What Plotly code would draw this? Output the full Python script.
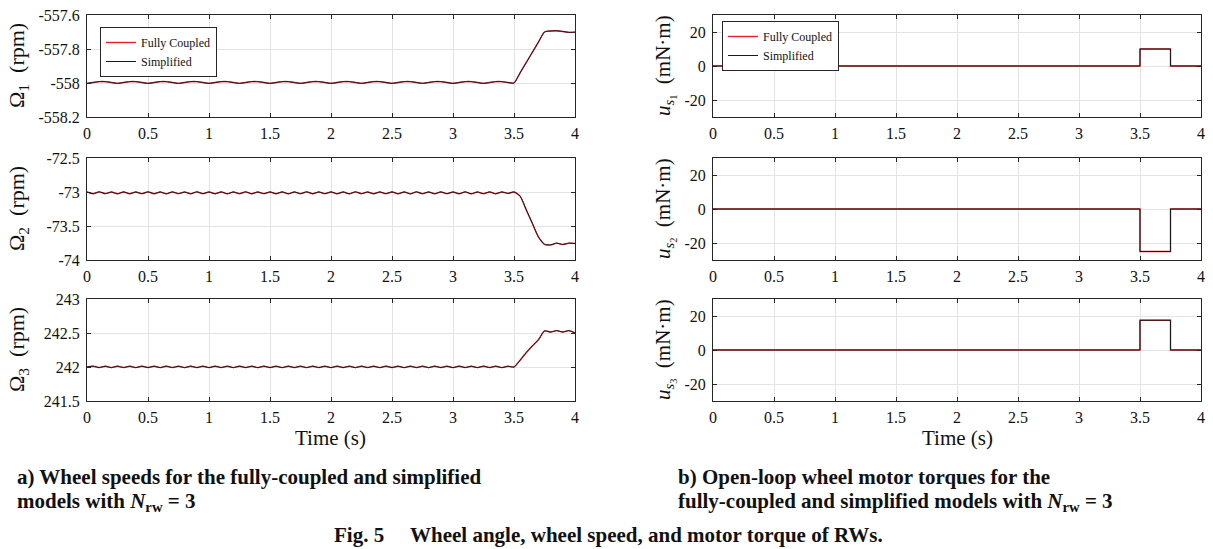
import numpy as np
import plotly.graph_objects as go
from plotly.subplots import make_subplots

# ---------------- data ----------------
time = np.round(np.arange(0, 4.0001, 0.05), 2)

omega1_full = [
    -558.002, -557.997, -557.992, -557.992, -557.997, -558.002, -557.997, -557.992, -557.992, -557.997,
    -558.002, -557.997, -557.992, -557.992, -557.997, -558.002, -557.997, -557.992, -557.992, -557.997,
    -558.002, -557.997, -557.992, -557.992, -557.997, -558.002, -557.997, -557.992, -557.992, -557.997,
    -558.002, -557.997, -557.992, -557.992, -557.997, -558.002, -557.997, -557.992, -557.992, -557.997,
    -558.002, -557.997, -557.992, -557.992, -557.997, -558.002, -557.997, -557.992, -557.992, -557.997,
    -558.002, -557.997, -557.992, -557.992, -557.997, -558.002, -557.997, -557.992, -557.992, -557.997,
    -558.002, -557.997, -557.992, -557.992, -557.997, -558.002, -557.997, -557.992, -557.992, -557.997,
    -558.000, -557.940, -557.880, -557.820, -557.760, -557.700, -557.694, -557.693, -557.697, -557.702,
    -557.701,
]
omega2_full = [
    -73.000, -73.025, -72.998, -73.024, -73.001, -73.026, -72.999, -73.025, -73.000, -73.024,
    -72.998, -73.025, -73.000, -73.026, -72.999, -73.024, -73.001, -73.025, -72.998, -73.024,
    -73.000, -73.025, -72.999, -73.026, -73.000, -73.024, -72.998, -73.025, -73.001, -73.024,
    -73.000, -73.025, -72.999, -73.026, -73.000, -73.024, -72.998, -73.025, -73.000, -73.024,
    -72.999, -73.025, -73.000, -73.026, -72.998, -73.024, -73.001, -73.025, -73.000, -73.024,
    -72.999, -73.025, -73.000, -73.026, -72.998, -73.024, -73.000, -73.025, -72.999, -73.024,
    -73.000, -73.025, -72.998, -73.026, -73.000, -73.024, -72.999, -73.025, -73.000, -73.020,
    -73.000, -73.060, -73.260, -73.460, -73.660, -73.770, -73.778, -73.752, -73.772, -73.752,
    -73.758,
]
omega3_full = [
    242.000, 242.012, 241.992, 242.011, 241.991, 242.012, 241.992, 242.011, 241.991, 242.012,
    241.992, 242.011, 241.991, 242.012, 241.992, 242.011, 241.991, 242.012, 241.992, 242.011,
    241.991, 242.012, 241.992, 242.011, 241.991, 242.012, 241.992, 242.011, 241.991, 242.012,
    241.992, 242.011, 241.991, 242.012, 241.992, 242.011, 241.991, 242.012, 241.992, 242.011,
    241.991, 242.012, 241.992, 242.011, 241.991, 242.012, 241.992, 242.011, 241.991, 242.012,
    241.992, 242.011, 241.991, 242.012, 241.992, 242.011, 241.991, 242.012, 241.992, 242.011,
    241.991, 242.012, 241.992, 242.011, 241.991, 242.012, 241.992, 242.011, 241.991, 242.010,
    242.000, 242.100, 242.210, 242.310, 242.400, 242.530, 242.515, 242.535, 242.515, 242.535,
    242.500,
]
# simplified model overlaps the fully coupled one at this scale
omega1_simp = list(omega1_full)
omega2_simp = list(omega2_full)
omega3_simp = list(omega3_full)

torque_time = [0, 3.5, 3.75, 4.0]
u1_full = [0, 10, 0, 0]
u2_full = [0, -25, 0, 0]
u3_full = [0, 17.5, 0, 0]
u1_simp = list(u1_full)
u2_simp = list(u2_full)
u3_simp = list(u3_full)

x_ticks = [0, 0.5, 1, 1.5, 2, 2.5, 3, 3.5, 4]
x_ticktext = ["0", "0.5", "1", "1.5", "2", "2.5", "3", "3.5", "4"]
y1_ticks = [-558.2, -558, -557.8, -557.6]
y1_text = ["-558.2", "-558", "-557.8", "-557.6"]
y2_ticks = [-74, -73.5, -73, -72.5]
y2_text = ["-74", "-73.5", "-73", "-72.5"]
y3_ticks = [241.5, 242, 242.5, 243]
y3_text = ["241.5", "242", "242.5", "243"]
u_ticks = [-20, 0, 20]
u_text = ["-20", "0", "20"]

# ---------------- figure ----------------
W, H = 1213, 549
RED = "#e8202a"
BLACK = "#1a1a1a"
SERIF = "Liberation Serif"

fig = make_subplots(rows=3, cols=2)

left_series = [(omega1_full, omega1_simp), (omega2_full, omega2_simp), (omega3_full, omega3_simp)]
right_series = [(u1_full, u1_simp), (u2_full, u2_simp), (u3_full, u3_simp)]

for r, (full, simp) in enumerate(left_series, start=1):
    show = r == 1
    fig.add_trace(go.Scatter(x=time, y=full, mode="lines", name="Fully Coupled",
                             line=dict(color=RED, width=1.4, shape="spline", smoothing=0.6),
                             showlegend=show, legend="legend"), row=r, col=1)
    fig.add_trace(go.Scatter(x=time, y=simp, mode="lines", name="Simplified",
                             line=dict(color=BLACK, width=1.0, shape="spline", smoothing=0.6),
                             showlegend=show, legend="legend"), row=r, col=1)

for r, (full, simp) in enumerate(right_series, start=1):
    show = r == 1
    fig.add_trace(go.Scatter(x=torque_time, y=full, mode="lines", name="Fully Coupled",
                             line=dict(color=RED, width=1.4, shape="hv"),
                             showlegend=show, legend="legend2"), row=r, col=2)
    fig.add_trace(go.Scatter(x=torque_time, y=simp, mode="lines", name="Simplified",
                             line=dict(color=BLACK, width=1.0, shape="hv"),
                             showlegend=show, legend="legend2"), row=r, col=2)

def px_x(a, b):
    return [a / W, b / W]

def px_y(top, bottom):
    return [1 - bottom / H, 1 - top / H]

rows_y = [(15, 117), (158, 260), (299, 401)]
cols_x = [(87, 575), (713, 1201)]
y_specs = [
    [(y1_ticks, y1_text, [-558.2, -557.6]), (u_ticks, u_text, [-30, 30])],
    [(y2_ticks, y2_text, [-74, -72.5]), (u_ticks, u_text, [-30, 30])],
    [(y3_ticks, y3_text, [241.5, 243]), (u_ticks, u_text, [-30, 30])],
]

axis_common = dict(
    showline=True, linecolor="#262626", linewidth=1, mirror="allticks",
    ticks="inside", ticklen=4, tickcolor="#262626", automargin=False,
    showgrid=True, gridcolor="#e3e3e3", gridwidth=1, zeroline=False,
    tickfont=dict(family=SERIF, size=16, color="#111"),
)

for r in range(1, 4):
    for c in range(1, 3):
        fig.update_xaxes(domain=px_x(*cols_x[c - 1]), range=[0, 4], tickvals=x_ticks,
                         ticktext=x_ticktext, ticklabelstandoff=2, row=r, col=c, **axis_common)
        tv, tt, rng = y_specs[r - 1][c - 1]
        fig.update_yaxes(domain=px_y(*rows_y[r - 1]), range=rng, tickvals=tv,
                         ticktext=tt, ticklabelstandoff=3, row=r, col=c, **axis_common)

annotations = []
ylabels_left = ["Ω<sub>1</sub>  (rpm)", "Ω<sub>2</sub>  (rpm)", "Ω<sub>3</sub>  (rpm)"]
ylabels_right = ["<i>u</i><sub><i>s</i><sub>1</sub></sub>  (mN·m)",
                 "<i>u</i><sub><i>s</i><sub>2</sub></sub>  (mN·m)",
                 "<i>u</i><sub><i>s</i><sub>3</sub></sub>  (mN·m)"]
for i, (top, bottom) in enumerate(rows_y):
    yc = 1 - (top + bottom) / 2 / H
    annotations.append(dict(text=ylabels_left[i], x=18 / W, y=yc, xref="paper", yref="paper",
                            textangle=-90, showarrow=False, xanchor="center", yanchor="middle",
                            font=dict(family=SERIF, size=22, color="#111")))
    annotations.append(dict(text=ylabels_right[i], x=665 / W, y=yc, xref="paper", yref="paper",
                            textangle=-90, showarrow=False, xanchor="center", yanchor="middle",
                            font=dict(family=SERIF, size=21, color="#111")))

for (a, b) in cols_x:
    annotations.append(dict(text="Time (s)", x=(a + b) / 2 / W, y=1 - 438 / H, xref="paper",
                            yref="paper", showarrow=False, xanchor="center", yanchor="middle",
                            font=dict(family=SERIF, size=21, color="#111")))

cap_font = dict(family=SERIF, size=21, color="#111")
annotations += [
    dict(text="<b>a) Wheel speeds for the fully-coupled and simplified</b>", x=15 / W, y=1 - 477 / H,
         xref="paper", yref="paper", showarrow=False, xanchor="left", yanchor="middle", font=cap_font),
    dict(text="<b>models with <i>N</i><sub>rw</sub> = 3</b>", x=15 / W, y=1 - 502 / H,
         xref="paper", yref="paper", showarrow=False, xanchor="left", yanchor="middle", font=cap_font),
    dict(text="<b>b) Open-loop wheel motor torques for the</b>", x=676 / W, y=1 - 477 / H,
         xref="paper", yref="paper", showarrow=False, xanchor="left", yanchor="middle", font=cap_font),
    dict(text="<b>fully-coupled and simplified models with <i>N</i><sub>rw</sub> = 3</b>", x=676 / W,
         y=1 - 502 / H, xref="paper", yref="paper", showarrow=False, xanchor="left", yanchor="middle",
         font=cap_font),
    dict(text="<b>Fig. 5     Wheel angle, wheel speed, and motor torque of RWs.</b>", x=608 / W,
         y=1 - 535 / H, xref="paper", yref="paper", showarrow=False, xanchor="center",
         yanchor="middle", font=cap_font),
]

legend_style = dict(bgcolor="white", bordercolor="#262626", borderwidth=1,
                    font=dict(family=SERIF, size=12, color="#111"),
                    xanchor="left", yanchor="top", tracegroupgap=0, itemwidth=30)

fig.update_layout(
    width=W, height=H, margin=dict(l=0, r=0, t=0, b=0, autoexpand=False),
    paper_bgcolor="white", plot_bgcolor="white",
    font=dict(family=SERIF, color="#111"),
    annotations=annotations,
    legend=dict(x=100 / W, y=1 - 27 / H, **legend_style),
    legend2=dict(x=722 / W, y=1 - 21 / H, **legend_style),
)

fig.write_html("out.html", config={"displayModeBar": False},
               post_script="document.body.style.margin='0';document.body.style.padding='0';"
                           "document.body.style.overflow='hidden';")
